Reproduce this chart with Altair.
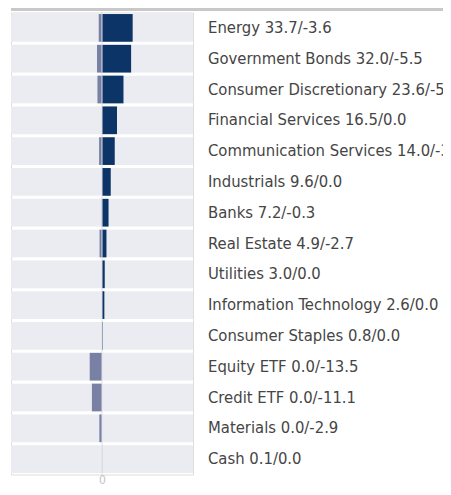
import altair as alt
import pandas as pd

categories = [
    "Energy", "Government Bonds", "Consumer Discretionary", "Financial Services",
    "Communication Services", "Industrials", "Banks", "Real Estate", "Utilities",
    "Information Technology", "Consumer Staples", "Equity ETF", "Credit ETF",
    "Materials", "Cash",
]
long_values = [33.7, 32.0, 23.6, 16.5, 14.0, 9.6, 7.2, 4.9, 3.0, 2.6, 0.8, 0.0, 0.0, 0.0, 0.1]
short_values = [-3.6, -5.5, -5.0, 0.0, -3.2, 0.0, -0.3, -2.7, 0.0, 0.0, 0.0, -13.5, -11.1, -2.9, 0.0]
x_domain = [-100, 100]
tick_values = [0]

df = pd.DataFrame({"cat": categories, "long": long_values, "short": short_values})
df["label"] = [f"{c} {l:.1f}/{s:.1f}" for c, l, s in zip(categories, long_values, short_values)]
df["zero"] = 0.0

FONT = "DejaVu Sans Condensed, DejaVu Sans, sans-serif"

xscale = alt.Scale(domain=x_domain, nice=False, zero=False)
yscale = alt.Scale(paddingInner=0.1, paddingOuter=0.05)
yenc = alt.Y("cat:N", sort=categories, scale=yscale, axis=None)

base = alt.Chart(df)

bands = base.mark_bar(color="#ebecf2").encode(
    y=yenc,
    x=alt.X(datum=x_domain[0], type="quantitative", scale=xscale,
            axis=alt.Axis(values=tick_values, title=None, domain=False, ticks=False,
                          grid=False, labelColor="#c2c2c2", labelFont=FONT,
                          labelFontSize=12, labelPadding=0)),
    x2=alt.X2(datum=x_domain[1]),
)

pos_bars = base.mark_bar(color="#0c3466").encode(
    y=yenc,
    x=alt.X("zero:Q", scale=xscale),
    x2="long:Q",
)

neg_bars = base.mark_bar(color="#7880a3").encode(
    y=yenc,
    x=alt.X("zero:Q", scale=xscale),
    x2="short:Q",
)

zero_line = alt.Chart(pd.DataFrame({"v": tick_values})).mark_rule(
    color="#dcdfe8", strokeWidth=1
).encode(x=alt.X("v:Q", scale=xscale))

labels = base.mark_text(
    align="left", baseline="middle", dx=15, font=FONT, fontSize=16.5, color="#454545"
).encode(
    y=yenc,
    x=alt.X(datum=x_domain[1], type="quantitative", scale=xscale),
    text="label:N",
)

top_rule = alt.Chart(pd.DataFrame({"v": [0]})).mark_rule(
    color="#c8c8c8", strokeWidth=3
).encode(x=alt.value(0), x2=alt.value(440), y=alt.value(-3))

chart = alt.layer(bands, pos_bars, neg_bars, zero_line, labels, top_rule).properties(
    width=182,
    height=462,
    autosize=alt.AutoSizeParams(type="none"),
    padding={"left": 3, "top": 4.5, "right": 250, "bottom": 12.5},
).configure_view(stroke=None).configure(background="white")

chart.save("out.html", embed_options={"renderer": "svg", "actions": False})
